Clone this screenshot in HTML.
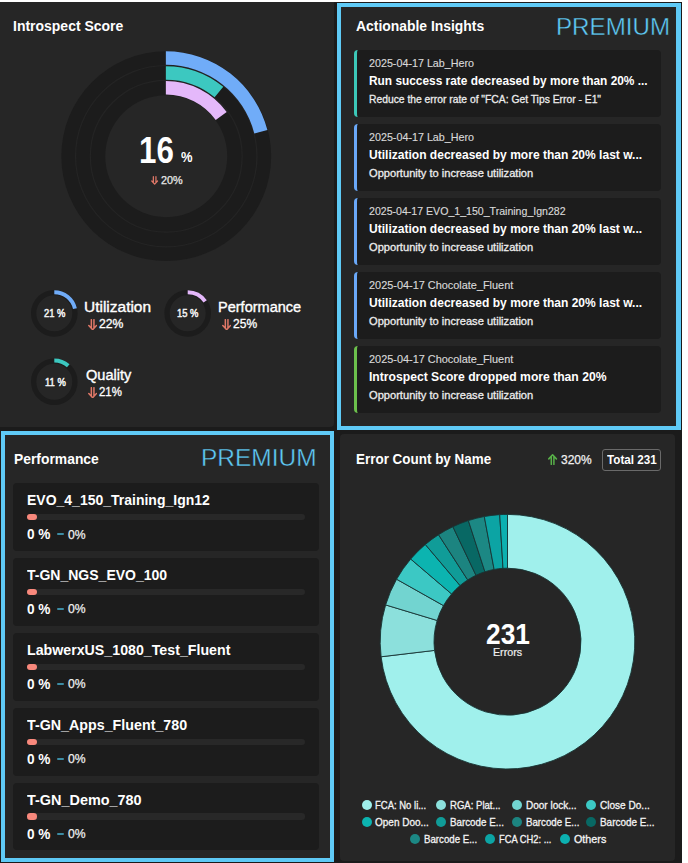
<!DOCTYPE html>
<html lang="en">
<head>
<meta charset="utf-8">
<title>Introspect Dashboard</title>
<style>
html,body{margin:0;padding:0;}
body{width:688px;height:863px;overflow:hidden;background:#fff;font-family:"Liberation Sans", sans-serif;color:#fff;position:relative;}
h2,p,ul,li,section,article,header{margin:0;padding:0;font-weight:normal;font-size:inherit;list-style:none;display:block;}
.abs{position:absolute;}
#page{position:absolute;left:0;top:2.2px;width:681.9px;height:860.8px;background:#1b1b1b;}
.panel{position:absolute;background:#262626;border-radius:4px;box-sizing:border-box;}
.prem-box{position:absolute;box-sizing:border-box;border:4.5px solid #5fcaf6;background:#262626;}
.card{position:absolute;background:#1c1c1c;border-radius:4px;box-sizing:border-box;}
.t{position:absolute;white-space:nowrap;transform-origin:0 0;line-height:1;margin:0;padding:0;display:block;}
.prem{-webkit-text-stroke:0.38px #262626;}
.dot{position:absolute;width:10px;height:10px;border-radius:50%;}
.track{position:absolute;height:6.6px;border-radius:3.3px;background:#282828;}
.pill{position:absolute;height:6.6px;width:10.8px;border-radius:3.3px;background:#f8887c;}
.dash{position:absolute;height:2px;width:7.4px;background:#3c8ca4;border-radius:1px;}
.total{position:absolute;box-sizing:border-box;border:1px solid #6a6a6a;border-radius:3px;}

</style>
</head>
<body>
<main id="page"></main>

<section id="introspect-score">
<div class="panel" style="left:0;top:2.2px;width:334.1px;height:425px;border-radius:0 0 4px 0"></div>
<h2 class="t" style="left:13.20px;top:19.20px;transform:scaleX(0.9983);font-size:14px;font-weight:700;">Introspect Score</h2>
<svg class="abs" style="left:0;top:0" width="336" height="428" viewBox="0 0 336 428">
<g id="score-ring"><circle cx="166.25" cy="156.2" r="104.9" fill="#1c1c1c"/><circle cx="166.25" cy="156.2" r="61" fill="#262626"/>
<circle cx="166.25" cy="156.2" r="90.7" fill="none" stroke="#242424" stroke-width="1.2"/><circle cx="166.25" cy="156.2" r="75.9" fill="none" stroke="#242424" stroke-width="1.2"/>
<path d="M165.85 51.35A104.85 104.85 0 0 1 267.41 130.12L254.33 133.48A91.35 91.35 0 0 0 165.85 64.85Z" fill="#70acf8"/>
<path d="M165.85 66.15A90.05 90.05 0 0 1 223.25 86.82L214.64 97.22A76.55 76.55 0 0 0 165.85 79.65Z" fill="#3cc8c0"/>
<path d="M165.85 81.00A75.2 75.2 0 0 1 226.69 112.00L215.73 119.96A61.65 61.65 0 0 0 165.85 94.55Z" fill="#e4b8fa"/></g>
<g id="gauge-utilization"><circle cx="54.3" cy="313.35" r="20.65" fill="none" stroke="#1c1c1c" stroke-width="5.3"/><path d="M54.30 292.15A21.2 21.2 0 0 1 74.96 308.62" fill="none" stroke="#70acf8" stroke-width="4"/></g>
<g id="gauge-performance"><circle cx="187.7" cy="313.35" r="20.65" fill="none" stroke="#1c1c1c" stroke-width="5.3"/><path d="M187.70 292.15A21.2 21.2 0 0 1 205.17 301.34" fill="none" stroke="#e4b8fa" stroke-width="4"/></g>
<g id="gauge-quality"><circle cx="54.3" cy="381.8" r="20.65" fill="none" stroke="#1c1c1c" stroke-width="5.3"/><path d="M54.30 360.60A21.2 21.2 0 0 1 68.24 365.82" fill="none" stroke="#3cc8c0" stroke-width="4"/></g>
</svg>
<div class="score-value">
<span class="t" style="left:139.39px;top:132.80px;transform:scaleX(0.8554);font-size:36.6px;font-weight:700;">16</span>
<span class="t" style="left:181.20px;top:150.10px;transform:scaleX(0.9231);font-size:14px;font-weight:700;">%</span>
<svg class="abs ico" style="left:151.3px;top:175.8px" width="7.3" height="8.9" viewBox="0 0 7.3 8.9" fill="none" stroke="#e07868" stroke-width="1.25" stroke-linecap="round" stroke-linejoin="round"><path d="M2.35 0.7V6.70M4.95 0.7V6.70M0.8 4.98L3.65 8.10L6.50 4.98"/></svg>
<span class="t" style="left:160.70px;top:174.60px;transform:scaleX(1.0300);font-size:10.5px;-webkit-text-stroke:0.25px;color:#e8e8e8;">20%</span>
</div>
<div class="metric">
<span class="t" style="left:43.90px;top:308.30px;transform:scaleX(0.8540);font-size:11px;-webkit-text-stroke:0.5px;color:#f4f4f4;">21 %</span>
<span class="t" style="left:84.49px;top:299.80px;transform:scaleX(1.1052);font-size:14px;-webkit-text-stroke:0.35px;">Utilization</span>
<svg class="abs ico" style="left:87.8px;top:318.5px" width="9.3" height="11.5" viewBox="0 0 9.3 11.5" fill="none" stroke="#e07868" stroke-width="1.5" stroke-linecap="round" stroke-linejoin="round"><path d="M3.35 0.7V9.30M5.95 0.7V9.30M0.8 6.44L4.65 10.70L8.50 6.44"/></svg>
<span class="t" style="left:99.30px;top:317.70px;transform:scaleX(1.0145);font-size:12px;-webkit-text-stroke:0.3px;">22%</span>
</div>
<div class="metric">
<span class="t" style="left:177.30px;top:308.30px;transform:scaleX(0.8540);font-size:11px;-webkit-text-stroke:0.5px;color:#f4f4f4;">15 %</span>
<span class="t" style="left:218.26px;top:299.80px;transform:scaleX(1.0371);font-size:14px;-webkit-text-stroke:0.35px;">Performance</span>
<svg class="abs ico" style="left:221.6px;top:318.5px" width="9.3" height="11.5" viewBox="0 0 9.3 11.5" fill="none" stroke="#e07868" stroke-width="1.5" stroke-linecap="round" stroke-linejoin="round"><path d="M3.35 0.7V9.30M5.95 0.7V9.30M0.8 6.44L4.65 10.70L8.50 6.44"/></svg>
<span class="t" style="left:233.00px;top:317.70px;transform:scaleX(1.0021);font-size:12px;-webkit-text-stroke:0.3px;">25%</span>
</div>
<div class="metric">
<span class="t" style="left:44.50px;top:376.70px;transform:scaleX(0.8580);font-size:11px;-webkit-text-stroke:0.5px;color:#f4f4f4;">11 %</span>
<span class="t" style="left:85.60px;top:368.20px;transform:scaleX(1.0419);font-size:14px;-webkit-text-stroke:0.35px;">Quality</span>
<svg class="abs ico" style="left:87.8px;top:386.9px" width="9.3" height="11.5" viewBox="0 0 9.3 11.5" fill="none" stroke="#e07868" stroke-width="1.5" stroke-linecap="round" stroke-linejoin="round"><path d="M3.35 0.7V9.30M5.95 0.7V9.30M0.8 6.44L4.65 10.70L8.50 6.44"/></svg>
<span class="t" style="left:99.30px;top:386.10px;transform:scaleX(0.9529);font-size:12px;-webkit-text-stroke:0.3px;">21%</span>
</div>
</section>

<section id="actionable-insights">
<div class="prem-box" style="left:336.8px;top:2.6px;width:344.1px;height:427.8px;border-width:4.9px 5.1px 4.6px 4.9px"></div>
<h2 class="t" style="left:355.60px;top:19.30px;transform:scaleX(0.9927);font-size:14px;font-weight:700;">Actionable Insights</h2>
<span class="t prem" style="left:555.64px;top:15.40px;transform:scaleX(0.9818);font-size:24.6px;color:#5fcaf6;">PREMIUM</span>
<article class="insight">
<div class="card" style="left:354.4px;top:50.0px;width:306.8px;height:67px;border-left:3px solid #3cc8b8"></div>
<span class="t" style="left:368.50px;top:58.40px;transform:scaleX(0.9756);font-size:11px;-webkit-text-stroke:0.15px;color:#d8d8d8;">2025-04-17 Lab_Hero</span>
<span class="t" style="left:368.70px;top:75.30px;transform:scaleX(0.9900);font-size:12px;font-weight:700;">Run success rate decreased by more than 20% ...</span>
<span class="t" style="left:368.70px;top:94.40px;transform:scaleX(0.9377);font-size:11px;-webkit-text-stroke:0.3px;color:#ececec;">Reduce the error rate of "FCA: Get Tips Error - E1"</span>
</article>
<article class="insight">
<div class="card" style="left:354.4px;top:123.9px;width:306.8px;height:67px;border-left:3px solid #6aa8f8"></div>
<span class="t" style="left:368.50px;top:132.30px;transform:scaleX(0.9756);font-size:11px;-webkit-text-stroke:0.15px;color:#d8d8d8;">2025-04-17 Lab_Hero</span>
<span class="t" style="left:368.70px;top:149.20px;transform:scaleX(1.0031);font-size:12px;font-weight:700;">Utilization decreased by more than 20% last w...</span>
<span class="t" style="left:368.70px;top:168.30px;transform:scaleX(1.0097);font-size:11px;-webkit-text-stroke:0.3px;color:#ececec;">Opportunity to increase utilization</span>
</article>
<article class="insight">
<div class="card" style="left:354.4px;top:197.8px;width:306.8px;height:67px;border-left:3px solid #6aa8f8"></div>
<span class="t" style="left:368.50px;top:206.20px;transform:scaleX(0.9616);font-size:11px;-webkit-text-stroke:0.15px;color:#d8d8d8;">2025-04-17 EVO_1_150_Training_Ign282</span>
<span class="t" style="left:368.70px;top:223.10px;transform:scaleX(1.0031);font-size:12px;font-weight:700;">Utilization decreased by more than 20% last w...</span>
<span class="t" style="left:368.70px;top:242.20px;transform:scaleX(1.0097);font-size:11px;-webkit-text-stroke:0.3px;color:#ececec;">Opportunity to increase utilization</span>
</article>
<article class="insight">
<div class="card" style="left:354.4px;top:271.7px;width:306.8px;height:67px;border-left:3px solid #6aa8f8"></div>
<span class="t" style="left:368.50px;top:280.10px;transform:scaleX(0.9911);font-size:11px;-webkit-text-stroke:0.15px;color:#d8d8d8;">2025-04-17 Chocolate_Fluent</span>
<span class="t" style="left:368.70px;top:297.00px;transform:scaleX(1.0031);font-size:12px;font-weight:700;">Utilization decreased by more than 20% last w...</span>
<span class="t" style="left:368.70px;top:316.10px;transform:scaleX(1.0097);font-size:11px;-webkit-text-stroke:0.3px;color:#ececec;">Opportunity to increase utilization</span>
</article>
<article class="insight">
<div class="card" style="left:354.4px;top:345.6px;width:306.8px;height:67px;border-left:3px solid #6cc04c"></div>
<span class="t" style="left:368.50px;top:354.00px;transform:scaleX(0.9911);font-size:11px;-webkit-text-stroke:0.15px;color:#d8d8d8;">2025-04-17 Chocolate_Fluent</span>
<span class="t" style="left:368.70px;top:370.90px;transform:scaleX(1.0117);font-size:12px;font-weight:700;">Introspect Score dropped more than 20%</span>
<span class="t" style="left:368.70px;top:390.00px;transform:scaleX(1.0097);font-size:11px;-webkit-text-stroke:0.3px;color:#ececec;">Opportunity to increase utilization</span>
</article>
</section>

<section id="performance">
<div class="prem-box" style="left:1px;top:431.2px;width:333.2px;height:430.6px;border-width:4.3px"></div>
<h2 class="t" style="left:13.60px;top:452.00px;transform:scaleX(0.9906);font-size:14px;font-weight:700;">Performance</h2>
<span class="t prem" style="left:201.01px;top:445.70px;transform:scaleX(0.9951);font-size:24.6px;color:#5fcaf6;">PREMIUM</span>
<article class="system">
<div class="card" style="left:13.2px;top:483.1px;width:305.6px;height:67.6px"></div>
<span class="t" style="left:27.00px;top:493.10px;transform:scaleX(0.9590);font-size:14.6px;font-weight:700;">EVO_4_150_Training_Ign12</span>
<div class="track" style="left:27px;top:513.6px;width:278.2px"></div><div class="pill" style="left:26.5px;top:513.6px"></div>
<span class="t" style="left:27.20px;top:526.70px;transform:scaleX(0.9405);font-size:14.5px;font-weight:700;">0 %</span>
<div class="dash" style="left:57px;top:533.1px"></div>
<span class="t" style="left:68.30px;top:527.50px;transform:scaleX(0.9360);font-size:13px;-webkit-text-stroke:0.25px;color:#f0f0f0;">0%</span>
</article>
<article class="system">
<div class="card" style="left:13.2px;top:558.1px;width:305.6px;height:67.6px"></div>
<span class="t" style="left:27.00px;top:568.05px;transform:scaleX(0.9597);font-size:14.6px;font-weight:700;">T-GN_NGS_EVO_100</span>
<div class="track" style="left:27px;top:588.6px;width:278.2px"></div><div class="pill" style="left:26.5px;top:588.6px"></div>
<span class="t" style="left:27.20px;top:601.65px;transform:scaleX(0.9405);font-size:14.5px;font-weight:700;">0 %</span>
<div class="dash" style="left:57px;top:608.1px"></div>
<span class="t" style="left:68.30px;top:602.45px;transform:scaleX(0.9360);font-size:13px;-webkit-text-stroke:0.25px;color:#f0f0f0;">0%</span>
</article>
<article class="system">
<div class="card" style="left:13.2px;top:633.0px;width:305.6px;height:67.6px"></div>
<span class="t" style="left:27.00px;top:643.00px;transform:scaleX(0.9731);font-size:14.6px;font-weight:700;">LabwerxUS_1080_Test_Fluent</span>
<div class="track" style="left:27px;top:663.5px;width:278.2px"></div><div class="pill" style="left:26.5px;top:663.5px"></div>
<span class="t" style="left:27.20px;top:676.60px;transform:scaleX(0.9405);font-size:14.5px;font-weight:700;">0 %</span>
<div class="dash" style="left:57px;top:683.0px"></div>
<span class="t" style="left:68.30px;top:677.40px;transform:scaleX(0.9360);font-size:13px;-webkit-text-stroke:0.25px;color:#f0f0f0;">0%</span>
</article>
<article class="system">
<div class="card" style="left:13.2px;top:708.0px;width:305.6px;height:67.6px"></div>
<span class="t" style="left:27.00px;top:717.95px;transform:scaleX(0.9774);font-size:14.6px;font-weight:700;">T-GN_Apps_Fluent_780</span>
<div class="track" style="left:27px;top:738.5px;width:278.2px"></div><div class="pill" style="left:26.5px;top:738.5px"></div>
<span class="t" style="left:27.20px;top:751.55px;transform:scaleX(0.9405);font-size:14.5px;font-weight:700;">0 %</span>
<div class="dash" style="left:57px;top:758.0px"></div>
<span class="t" style="left:68.30px;top:752.35px;transform:scaleX(0.9360);font-size:13px;-webkit-text-stroke:0.25px;color:#f0f0f0;">0%</span>
</article>
<article class="system">
<div class="card" style="left:13.2px;top:782.9px;width:305.6px;height:67.6px"></div>
<span class="t" style="left:27.00px;top:792.90px;transform:scaleX(0.9882);font-size:14.6px;font-weight:700;">T-GN_Demo_780</span>
<div class="track" style="left:27px;top:813.4px;width:278.2px"></div><div class="pill" style="left:26.5px;top:813.4px"></div>
<span class="t" style="left:27.20px;top:826.50px;transform:scaleX(0.9405);font-size:14.5px;font-weight:700;">0 %</span>
<div class="dash" style="left:57px;top:832.9px"></div>
<span class="t" style="left:68.30px;top:827.30px;transform:scaleX(0.9360);font-size:13px;-webkit-text-stroke:0.25px;color:#f0f0f0;">0%</span>
</article>
</section>

<section id="error-count">
<div class="panel" style="left:340.1px;top:434.1px;width:335.3px;height:427px"></div>
<h2 class="t" style="left:355.60px;top:452.00px;transform:scaleX(0.9602);font-size:14px;font-weight:700;">Error Count by Name</h2>
<svg class="abs ico" style="left:548.4px;top:454.2px" width="9.2" height="11.1" viewBox="0 0 9.2 11.1" fill="none" stroke="#58b048" stroke-width="1.5" stroke-linecap="round" stroke-linejoin="round"><path d="M3.30 10.40V2.2M5.90 10.40V2.2M0.8 4.88L4.60 0.8L8.40 4.88"/></svg>
<span class="t" style="left:561.00px;top:454.10px;transform:scaleX(0.9993);font-size:12px;-webkit-text-stroke:0.25px;color:#f0f0f0;">320%</span>
<div class="total" style="left:602.3px;top:448.7px;width:59.1px;height:22.8px"></div>
<span class="t" style="left:607.00px;top:454.10px;transform:scaleX(0.9717);font-size:12px;font-weight:700;">Total 231</span>
<svg class="abs" id="error-donut" style="left:340px;top:434px" width="342" height="429" viewBox="340 434 342 429">
<path d="M507.50 514.40A127.3 127.3 0 1 1 381.10 656.77L434.52 650.40A73.5 73.5 0 1 0 507.50 568.20Z" fill="#a0f0ec" stroke="#183434" stroke-width="0.9" stroke-linejoin="round"/>
<path d="M381.10 656.77A127.3 127.3 0 0 1 385.63 604.91L437.14 620.46A73.5 73.5 0 0 0 434.52 650.40Z" fill="#8ce0dc" stroke="#183434" stroke-width="0.9" stroke-linejoin="round"/>
<path d="M385.63 604.91A127.3 127.3 0 0 1 396.59 579.21L443.47 605.62A73.5 73.5 0 0 0 437.14 620.46Z" fill="#72d4d0" stroke="#183434" stroke-width="0.9" stroke-linejoin="round"/>
<path d="M396.59 579.21A127.3 127.3 0 0 1 410.70 559.03L451.61 593.97A73.5 73.5 0 0 0 443.47 605.62Z" fill="#3cc8c4" stroke="#183434" stroke-width="0.9" stroke-linejoin="round"/>
<path d="M410.70 559.03A127.3 127.3 0 0 1 425.33 544.47L460.06 585.56A73.5 73.5 0 0 0 451.61 593.97Z" fill="#0cb4b0" stroke="#183434" stroke-width="0.9" stroke-linejoin="round"/>
<path d="M425.33 544.47A127.3 127.3 0 0 1 438.54 534.70L467.68 579.92A73.5 73.5 0 0 0 460.06 585.56Z" fill="#109c98" stroke="#183434" stroke-width="0.9" stroke-linejoin="round"/>
<path d="M438.54 534.70A127.3 127.3 0 0 1 452.90 526.71L475.97 575.30A73.5 73.5 0 0 0 467.68 579.92Z" fill="#1c8480" stroke="#183434" stroke-width="0.9" stroke-linejoin="round"/>
<path d="M452.90 526.71A127.3 127.3 0 0 1 468.37 520.56L484.91 571.76A73.5 73.5 0 0 0 475.97 575.30Z" fill="#086864" stroke="#183434" stroke-width="0.9" stroke-linejoin="round"/>
<path d="M468.37 520.56A127.3 127.3 0 0 1 484.30 516.53L494.11 569.43A73.5 73.5 0 0 0 484.91 571.76Z" fill="#1c8884" stroke="#183434" stroke-width="0.9" stroke-linejoin="round"/>
<path d="M484.30 516.53A127.3 127.3 0 0 1 499.73 514.64L503.01 568.34A73.5 73.5 0 0 0 494.11 569.43Z" fill="#0ca4a4" stroke="#183434" stroke-width="0.9" stroke-linejoin="round"/>
<path d="M499.73 514.64A127.3 127.3 0 0 1 507.50 514.40L507.50 568.20A73.5 73.5 0 0 0 503.01 568.34Z" fill="#0cb0b0" stroke="#183434" stroke-width="0.9" stroke-linejoin="round"/>
</svg>
<span class="t" style="left:486.32px;top:619.00px;transform:scaleX(0.8766);font-size:30px;font-weight:700;">231</span>
<span class="t" style="left:493.00px;top:647.20px;transform:scaleX(0.9690);font-size:11px;-webkit-text-stroke:0.2px;color:#f0f0f0;">Errors</span>
<ul class="legend">
<li><i class="dot" style="left:361.5px;top:799.9px;background:#a0f0ec"></i>
<span class="t" style="left:375.20px;top:799.80px;transform:scaleX(0.8627);font-size:11px;-webkit-text-stroke:0.3px;color:#f4f4f4;">FCA: No li...</span>
</li>
<li><i class="dot" style="left:436.3px;top:799.9px;background:#8ce0dc"></i>
<span class="t" style="left:450.20px;top:799.80px;transform:scaleX(0.8687);font-size:11px;-webkit-text-stroke:0.3px;color:#f4f4f4;">RGA: Plat...</span>
</li>
<li><i class="dot" style="left:511.5px;top:799.9px;background:#72d4d0"></i>
<span class="t" style="left:525.70px;top:799.80px;transform:scaleX(0.9105);font-size:11px;-webkit-text-stroke:0.3px;color:#f4f4f4;">Door lock...</span>
</li>
<li><i class="dot" style="left:586.3px;top:799.9px;background:#3cc8c4"></i>
<span class="t" style="left:600.20px;top:799.80px;transform:scaleX(0.9144);font-size:11px;-webkit-text-stroke:0.3px;color:#f4f4f4;">Close Do...</span>
</li>
<li><i class="dot" style="left:361.5px;top:816.9px;background:#0cb4b0"></i>
<span class="t" style="left:375.20px;top:816.80px;transform:scaleX(0.9079);font-size:11px;-webkit-text-stroke:0.3px;color:#f4f4f4;">Open Doo...</span>
</li>
<li><i class="dot" style="left:436.3px;top:816.9px;background:#109c98"></i>
<span class="t" style="left:450.20px;top:816.80px;transform:scaleX(0.8896);font-size:11px;-webkit-text-stroke:0.3px;color:#f4f4f4;">Barcode E...</span>
</li>
<li><i class="dot" style="left:511.5px;top:816.9px;background:#1c8480"></i>
<span class="t" style="left:525.70px;top:816.80px;transform:scaleX(0.8813);font-size:11px;-webkit-text-stroke:0.3px;color:#f4f4f4;">Barcode E...</span>
</li>
<li><i class="dot" style="left:586.3px;top:816.9px;background:#086864"></i>
<span class="t" style="left:600.20px;top:816.80px;transform:scaleX(0.9012);font-size:11px;-webkit-text-stroke:0.3px;color:#f4f4f4;">Barcode E...</span>
</li>
<li><i class="dot" style="left:410px;top:834.2px;background:#1c8884"></i>
<span class="t" style="left:423.90px;top:834.10px;transform:scaleX(0.8797);font-size:11px;-webkit-text-stroke:0.3px;color:#f4f4f4;">Barcode E...</span>
</li>
<li><i class="dot" style="left:484.8px;top:834.2px;background:#0ca4a4"></i>
<span class="t" style="left:498.70px;top:834.10px;transform:scaleX(0.8493);font-size:11px;-webkit-text-stroke:0.3px;color:#f4f4f4;">FCA CH2: ...</span>
</li>
<li><i class="dot" style="left:560px;top:834.2px;background:#0cb0b0"></i>
<span class="t" style="left:573.90px;top:834.10px;transform:scaleX(0.9788);font-size:11px;-webkit-text-stroke:0.3px;color:#f4f4f4;">Others</span>
</li>
</ul>
</section>
</body>
</html>
